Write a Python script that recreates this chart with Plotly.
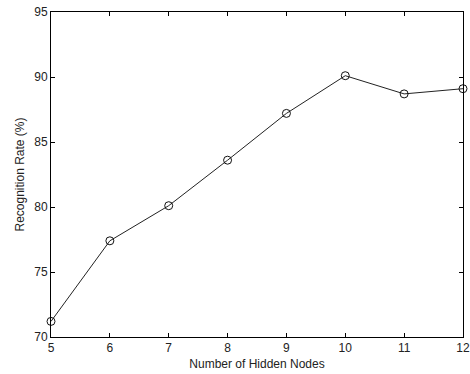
import plotly.graph_objects as go

hidden_nodes = [5, 6, 7, 8, 9, 10, 11, 12]
recognition_rate = [71.2, 77.4, 80.1, 83.6, 87.2, 90.1, 88.7, 89.1]
x_ticks = [5, 6, 7, 8, 9, 10, 11, 12]
y_ticks = [70, 75, 80, 85, 90, 95]

FONT = "Liberation Sans, Arial, sans-serif"

fig = go.Figure()
fig.add_trace(go.Scatter(
    x=hidden_nodes, y=recognition_rate, mode="lines+markers",
    line=dict(color="#222222", width=1),
    marker=dict(symbol="circle-open", size=8, color="#111111", line=dict(width=1)),
    cliponaxis=False, showlegend=False,
))

axis_common = dict(
    showgrid=False, zeroline=False, showline=True, linecolor="black", linewidth=1,
    mirror="ticks", ticks="inside", ticklen=4, tickcolor="black", automargin=False,
    tickfont=dict(family=FONT, size=12, color="#222"),
)
fig.update_xaxes(range=[5, 12], tickvals=x_ticks, **axis_common,
                 title=dict(text="Number of Hidden Nodes", standoff=5,
                            font=dict(family=FONT, size=12, color="#222")))
fig.update_yaxes(range=[70, 95], tickvals=y_ticks, **axis_common,
                 title=dict(text="Recognition Rate (%)", standoff=7,
                            font=dict(family=FONT, size=12, color="#222")))
fig.update_layout(
    width=470, height=374, margin=dict(l=51, r=7, t=12, b=37),
    paper_bgcolor="white", plot_bgcolor="white",
)
fig.write_html("out.html")
